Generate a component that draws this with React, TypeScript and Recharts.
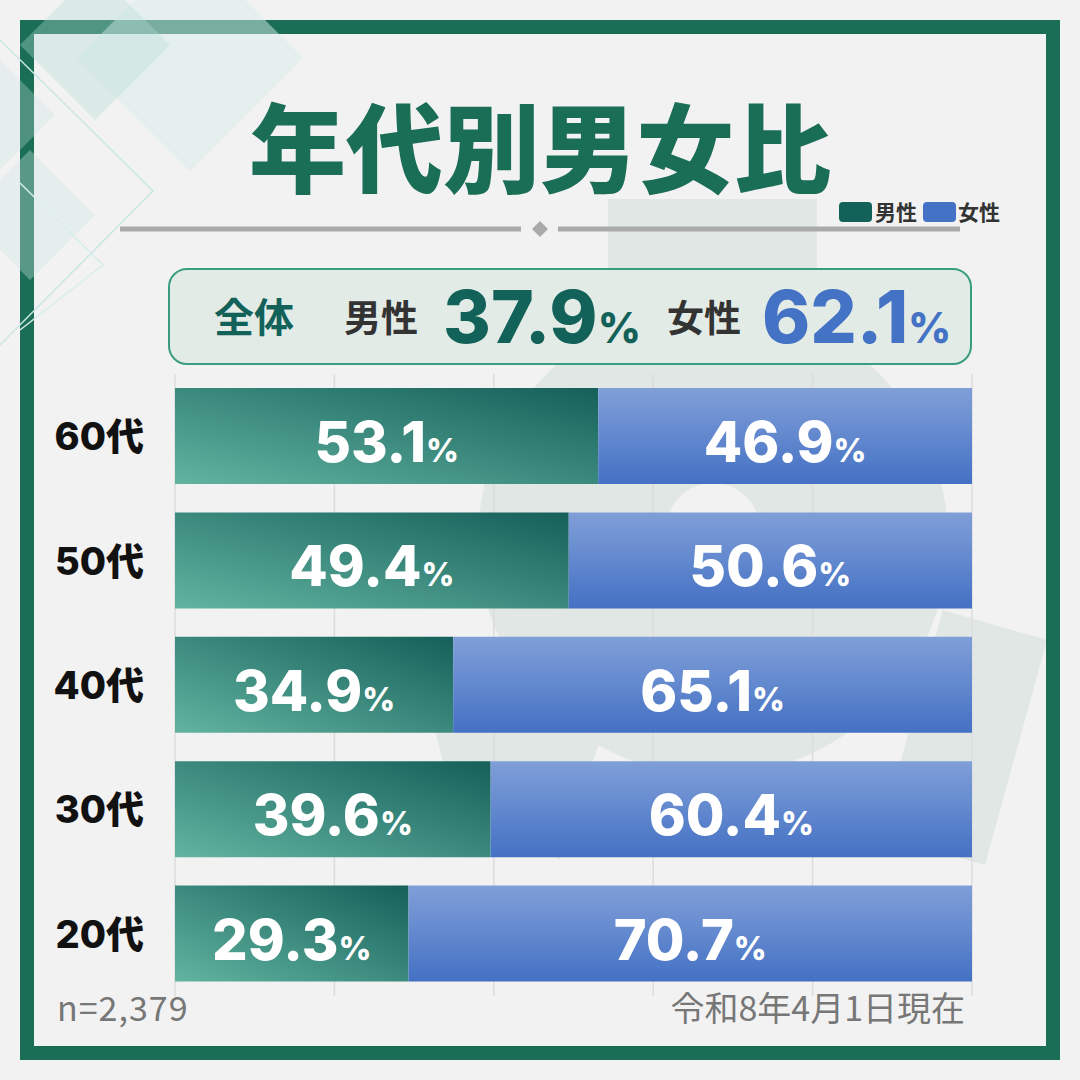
import React from "react"
import { BarChart, Bar, XAxis, YAxis, CartesianGrid, LabelList } from "recharts"

const ages = ["60代", "50代", "40代", "30代", "20代"]
const male = [53.1, 49.4, 34.9, 39.6, 29.3]
const female = [46.9, 50.6, 65.1, 60.4, 70.7]
const xTicks = [0, 20, 40, 60, 80, 100]

const title = "年代別男女比"
const totalLabel = "全体"
const totalMale = 37.9
const totalFemale = 62.1
const seriesNames = ["男性", "女性"]
const sampleNote = "n=2,379"
const dateNote = "令和8年4月1日現在"

const data = ages.map((age, i) => ({ age, male: male[i], female: female[i] }))

const GREEN = "#1b6e56"
const DARK_GREEN = "#13625a"
const BLUE = "#4472c4"
const CJK = '"Noto Sans CJK JP", "Noto Sans", sans-serif'
const NUM = 'Inter, "Noto Sans CJK JP", sans-serif'

function BarValue(props: any) {
  const { x, y, width, height, value } = props
  const cx = x + width / 2
  const cy = y + height / 2
  return (
    <text x={cx} y={cy + 26} textAnchor="middle" fill="#ffffff" fontFamily={NUM} fontWeight={800}>
      <tspan fontSize={56}>{value}</tspan>
      <tspan fontSize={32}>%</tspan>
    </text>
  )
}

function AgeTick(props: any) {
  const { y, payload } = props
  return (
    <text x={144} y={y + 14} textAnchor="end" fill="#111" fontFamily={NUM} fontWeight={800} fontSize={38}>
      {payload.value}
    </text>
  )
}

function Background() {
  return (
    <svg width={1080} height={1080} style={{ position: "absolute", left: 0, top: 0 }}>
      <rect x={0} y={0} width={1080} height={1080} fill="#f2f2f2" />
      {/* faint flask-like mark behind the chart */}
      <g fill="#e1e7e4">
        <rect x={608} y={199} width={209} height={220} />
        <path
          fillRule="evenodd"
          d="M 478 540 A 235 235 0 1 0 948 540 A 235 235 0 1 0 478 540 Z M 666 530 A 47 47 0 1 0 760 530 A 47 47 0 1 0 666 530 Z"
        />
        <polygon points="943,610 1047,640 985,865 880,835" />
        <polygon points="416,650 600,740 560,860 447,780" />
      </g>
      <rect x={27} y={27} width={1026} height={1026} fill="none" stroke={GREEN} strokeWidth={14} />
      {/* top-left decoration */}
      <g>
        <polygon points="190,-55 303,58 190,171 77,58" fill="#d8ecea" opacity={0.5} />
        <polygon points="95,-30 170,45 95,120 20,45" fill="#b5dcd3" opacity={0.35} />
        <polygon points="30,150 95,215 30,280 -35,215" fill="#cfe7e2" opacity={0.35} />
        <polygon points="0,60 55,115 0,170 -55,115" fill="#c6e3dd" opacity={0.3} />
        <polyline points="0,40 153,191 0,345" fill="none" stroke="#c8e7e1" strokeWidth={1.5} />
        <polyline points="20,183 103,265 20,330" fill="none" stroke="#d8eeea" strokeWidth={1.5} />
      </g>
    </svg>
  )
}

function Foreground() {
  return (
    <svg width={1080} height={1080} style={{ position: "absolute", left: 0, top: 0, pointerEvents: "none" }}>
      <text x={540} y={185} textAnchor="middle" fill={GREEN} fontFamily={CJK} fontWeight={900} fontSize={97}>
        {title}
      </text>
      <line x1={120} y1={229} x2={521} y2={229} stroke="#aaaaaa" strokeWidth={5} />
      <line x1={558} y1={229} x2={960} y2={229} stroke="#aaaaaa" strokeWidth={5} />
      <polygon points="540,221 548,229 540,237 532,229" fill="#aaaaaa" />

      {/* legend */}
      <rect x={839} y={202} width={33} height={20} rx={4} fill={DARK_GREEN} />
      <text x={875} y={220} fill="#333" fontFamily={CJK} fontWeight={700} fontSize={21}>{seriesNames[0]}</text>
      <rect x={923} y={202} width={33} height={20} rx={4} fill={BLUE} />
      <text x={958} y={220} fill="#333" fontFamily={CJK} fontWeight={700} fontSize={21}>{seriesNames[1]}</text>

      {/* overall box */}
      <rect x={169} y={269} width={802} height={95} rx={18} fill="#e3ebe6" stroke="#3a9c80" strokeWidth={2} />
      <text x={214} y={332} fill={DARK_GREEN} fontFamily={CJK} fontWeight={700} fontSize={40}>{totalLabel}</text>
      <text x={344} y={332} fill="#333" fontFamily={CJK} fontWeight={700} fontSize={37}>{seriesNames[0]}</text>
      <text x={443} y={343} fill={DARK_GREEN} fontFamily={NUM} fontWeight={800}>
        <tspan fontSize={73}>{totalMale}</tspan>
        <tspan fontSize={42}>%</tspan>
      </text>
      <text x={667} y={332} fill="#333" fontFamily={CJK} fontWeight={700} fontSize={37}>{seriesNames[1]}</text>
      <text x={762} y={343} fill={BLUE} fontFamily={NUM} fontWeight={800}>
        <tspan fontSize={73}>{totalFemale}</tspan>
        <tspan fontSize={42}>%</tspan>
      </text>

      <text x={57} y={1021} fill="#777" fontFamily={CJK} fontSize={34} letterSpacing={1}>{sampleNote}</text>
      <text x={965} y={1021} textAnchor="end" fill="#777" fontFamily={CJK} fontSize={34}>{dateNote}</text>
    </svg>
  )
}

export default function App() {
  return (
    <div style={{ position: "absolute", left: 0, top: 0, width: 1080, height: 1080, overflow: "hidden" }}>
      <Background />
      <div style={{ position: "absolute", left: 0, top: 0 }}>
        <BarChart
          width={1080}
          height={1080}
          data={data}
          layout="vertical"
          margin={{ top: 374, right: 108, bottom: 84, left: 0 }}
        >
          <defs>
            <linearGradient id="gMale" x1="0" y1="1" x2="1" y2="0">
              <stop offset="0%" stopColor="#62b4a1" />
              <stop offset="100%" stopColor="#15605a" />
            </linearGradient>
            <linearGradient id="gFemale" x1="0" y1="0" x2="0" y2="1">
              <stop offset="0%" stopColor="#809fd8" />
              <stop offset="100%" stopColor="#4471c4" />
            </linearGradient>
          </defs>
          <CartesianGrid horizontal={false} stroke="#dcdcdc" strokeWidth={1.5} />
          <XAxis type="number" domain={[0, 100]} ticks={xTicks} hide />
          <YAxis type="category" dataKey="age" width={175} axisLine={false} tickLine={false} tick={<AgeTick />} />
          <Bar dataKey="male" name={seriesNames[0]} stackId="a" fill="url(#gMale)" barSize={96} isAnimationActive={false}>
            <LabelList dataKey="male" content={<BarValue />} />
          </Bar>
          <Bar dataKey="female" name={seriesNames[1]} stackId="a" fill="url(#gFemale)" barSize={96} isAnimationActive={false}>
            <LabelList dataKey="female" content={<BarValue />} />
          </Bar>
        </BarChart>
      </div>
      <Foreground />
    </div>
  )
}
